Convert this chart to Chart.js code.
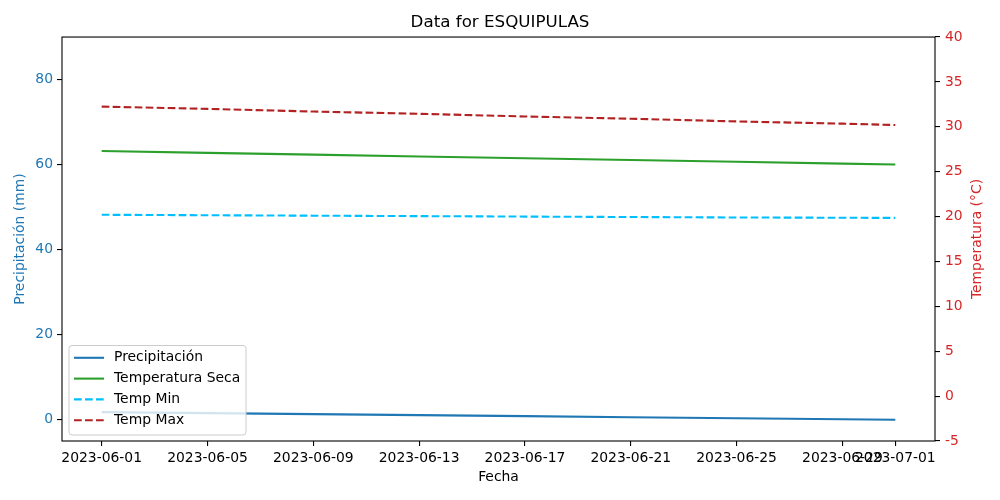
<!DOCTYPE html>
<html><head><meta charset="utf-8">
<script src="https://cdn.jsdelivr.net/npm/chart.js@4.4.0/dist/chart.umd.min.js"></script>
<style>html,body{margin:0;padding:0;background:#fff}</style>
</head><body>
<canvas id="c" width="1000" height="500"></canvas>
<script>
// ---- data ----
const dates = ['2023-06-01','2023-06-05','2023-06-09','2023-06-13','2023-06-17','2023-06-21','2023-06-25','2023-06-29','2023-07-01'];
const precipitacion = [1.8, 1.56, 1.32, 1.08, 0.84, 0.6, 0.36, 0.12, 0.0];
const tempSeca = [27.3, 27.1, 26.9, 26.7, 26.5, 26.3, 26.1, 25.9, 25.8];
const tempMin = [20.2, 20.15, 20.1, 20.05, 20.0, 19.95, 19.9, 19.87, 19.85];
const tempMax = [32.25, 32.0, 31.7, 31.45, 31.15, 30.9, 30.6, 30.35, 30.2];
const xTickDates = ['2023-06-01','2023-06-05','2023-06-09','2023-06-13','2023-06-17','2023-06-21','2023-06-25','2023-06-29','2023-07-01'];
const leftTicks = [0, 20, 40, 60, 80];
const rightTicks = [-5, 0, 5, 10, 15, 20, 25, 30, 35, 40];
const chartTitle = 'Data for ESQUIPULAS';
const xTitle = 'Fecha';
const leftTitle = 'Precipitación (mm)';
const rightTitle = 'Temperatura (°C)';

const DAY = 86400000;
const base = Date.UTC(2023, 5, 1);
const toDay = s => (Date.parse(s + 'T00:00:00Z') - base) / DAY;
const fromDay = d => new Date(base + Math.round(d) * DAY).toISOString().slice(0, 10);
const xy = arr => dates.map((d, i) => ({x: toDay(d), y: arr[i]}));

const BLUE = '#1f77b4', RED = '#d62728';
const FONT = 'DejaVu Sans';
Chart.defaults.font.family = FONT;
Chart.defaults.font.size = 13.9;
Chart.defaults.color = '#000';

const framePlugin = {
  id: 'frame',
  afterDatasetsDraw(chart) {
    const {ctx, chartArea: a} = chart;
    ctx.save();
    ctx.strokeStyle = '#000';
    ctx.lineWidth = 1.1;
    ctx.strokeRect(a.left, a.top, a.right - a.left, a.bottom - a.top);
    ctx.restore();
  }
};

const extrasPlugin = {
  id: 'extras',
  afterDraw(chart) {
    const {ctx, chartArea: a} = chart;
    // right axis title, reading bottom-to-top like the reference
    ctx.save();
    ctx.fillStyle = RED;
    ctx.font = '13.9px "' + FONT + '"';
    ctx.textAlign = 'center';
    ctx.textBaseline = 'middle';
    ctx.translate(977, (a.top + a.bottom) / 2);
    ctx.rotate(-Math.PI / 2);
    ctx.fillText(rightTitle, 0, 0);
    ctx.restore();

    // legend box in lower-left of plot area
    ctx.save();
    const x0 = a.left + 7, w = 177, h = 89.5;
    const y0 = a.bottom - 6 - h;
    const r = 3;
    ctx.beginPath();
    ctx.moveTo(x0 + r, y0);
    ctx.lineTo(x0 + w - r, y0); ctx.arcTo(x0 + w, y0, x0 + w, y0 + r, r);
    ctx.lineTo(x0 + w, y0 + h - r); ctx.arcTo(x0 + w, y0 + h, x0 + w - r, y0 + h, r);
    ctx.lineTo(x0 + r, y0 + h); ctx.arcTo(x0, y0 + h, x0, y0 + h - r, r);
    ctx.lineTo(x0, y0 + r); ctx.arcTo(x0, y0, x0 + r, y0, r);
    ctx.closePath();
    ctx.fillStyle = 'rgba(255,255,255,0.8)';
    ctx.fill();
    ctx.strokeStyle = '#cccccc';
    ctx.lineWidth = 1;
    ctx.stroke();
    ctx.font = '13.9px "' + FONT + '"';
    ctx.textAlign = 'left';
    ctx.textBaseline = 'middle';
    chart.data.datasets.forEach((ds, i) => {
      const cy = y0 + 12.3 + i * 20.8;
      ctx.beginPath();
      ctx.strokeStyle = ds.borderColor;
      ctx.lineWidth = ds.borderWidth;
      ctx.setLineDash(ds.borderDash || []);
      ctx.moveTo(x0 + 5, cy);
      ctx.lineTo(x0 + 35, cy);
      ctx.stroke();
      ctx.setLineDash([]);
      ctx.fillStyle = '#000';
      ctx.fillText(ds.label, x0 + 45, cy);
    });
    ctx.restore();
  }
};

const common = {pointRadius: 0, borderWidth: 2.1, tension: 0, fill: false};
new Chart(document.getElementById('c'), {
  type: 'line',
  data: {
    datasets: [
      {label: 'Precipitación', data: xy(precipitacion), borderColor: BLUE, yAxisID: 'y', ...common},
      {label: 'Temperatura Seca', data: xy(tempSeca), borderColor: '#2ca02c', yAxisID: 'y1', ...common},
      {label: 'Temp Min', data: xy(tempMin), borderColor: '#00bfff', borderDash: [7.7, 3.3], yAxisID: 'y1', ...common},
      {label: 'Temp Max', data: xy(tempMax), borderColor: '#b22222', borderDash: [7.7, 3.3], yAxisID: 'y1', ...common}
    ]
  },
  options: {
    responsive: false,
    animation: false,
    layout: {padding: 0},
    plugins: {
      legend: {display: false},
      tooltip: {enabled: false},
      title: {display: true, text: chartTitle, color: '#000',
        font: {size: 16.7, weight: 'normal', lineHeight: 1.2},
        padding: {top: 13, bottom: 4}}
    },
    scales: {
      x: {
        type: 'linear', position: 'bottom',
        min: toDay('2023-06-01') - 1.5, max: toDay('2023-07-01') + 1.5,
        afterBuildTicks: s => { s.ticks = xTickDates.map(d => ({value: toDay(d)})); },
        afterFit: s => { s.height = 59; },
        ticks: {autoSkip: false, maxRotation: 0, minRotation: 0, padding: 4, color: '#000',
          callback: v => fromDay(v)},
        grid: {drawOnChartArea: false, drawTicks: true, tickLength: 5, color: '#000', lineWidth: 1.1},
        border: {display: false},
        title: {display: true, text: xTitle, color: '#000', font: {size: 13.9, lineHeight: 1.2},
          padding: {top: 0, bottom: 14.6}}
      },
      y: {
        type: 'linear', position: 'left', min: -5, max: 90,
        afterBuildTicks: s => { s.ticks = leftTicks.map(v => ({value: v})); },
        afterFit: s => { s.width = 62; },
        ticks: {color: BLUE, padding: 4},
        grid: {drawOnChartArea: false, drawTicks: true, tickLength: 5, color: '#000', lineWidth: 1.1},
        border: {display: false},
        title: {display: true, text: leftTitle, color: BLUE, font: {size: 13.9, lineHeight: 1.2},
          padding: {top: 11.6, bottom: 0}}
      },
      y1: {
        type: 'linear', position: 'right', min: -5, max: 40,
        afterBuildTicks: s => { s.ticks = rightTicks.map(v => ({value: v})); },
        afterFit: s => { s.width = 65; },
        ticks: {color: RED, padding: 5},
        grid: {drawOnChartArea: false, drawTicks: true, tickLength: 5, color: '#000', lineWidth: 1.1},
        border: {display: false},
        title: {display: false, text: rightTitle}
      }
    }
  },
  plugins: [framePlugin, extrasPlugin]
});
</script>
</body></html>
